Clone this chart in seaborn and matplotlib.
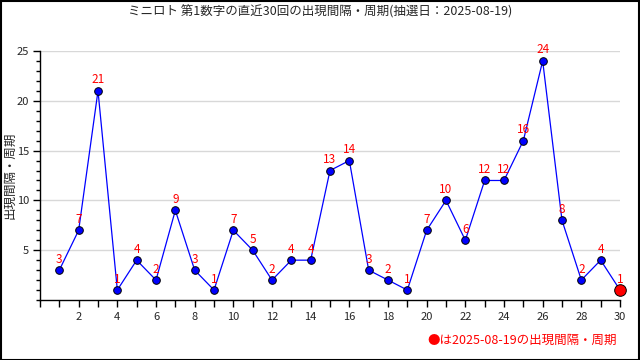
import matplotlib
matplotlib.use('Agg')
import matplotlib.pyplot as plt
import seaborn as sns
import pandas as pd
from matplotlib.ticker import MultipleLocator

# data
draws = list(range(1, 31))
intervals = [3, 7, 21, 1, 4, 2, 9, 3, 1, 7, 5, 2, 4, 4, 13, 14, 3, 2, 1, 7,
             10, 6, 12, 12, 16, 24, 8, 2, 4, 1]
title = 'ミニロト 第1数字の直近30回の出現間隔・周期(抽選日：2025-08-19)'
ylabel = '出現間隔・周期'
note = '●は2025-08-19の出現間隔・周期'

sns.set_style('white')
plt.rcParams['font.family'] = ['Noto Sans CJK JP', 'DejaVu Sans']

df = pd.DataFrame({'draw': draws, 'interval': intervals})

fig = plt.figure(figsize=(6.4, 3.6), dpi=100)
ax = fig.add_axes([40 / 640, 60 / 360, 580 / 640, 249 / 360])

for y in [5, 10, 15, 20, 25]:
    ax.axhline(y, color='#d8d8d8', lw=1, zorder=0)

sns.lineplot(data=df, x='draw', y='interval', color='blue', lw=0.9, ax=ax,
             marker='o', markersize=5.5, markerfacecolor='blue',
             markeredgecolor='black', markeredgewidth=0.7, zorder=3)
last = df.iloc[[-1]]
sns.scatterplot(data=last, x='draw', y='interval', color='red', s=70,
                edgecolor='black', linewidth=0.7, ax=ax, zorder=4, clip_on=False)

for d, v in zip(draws, intervals):
    ax.text(d, v + 0.45, str(v), color='red', fontsize=8.5, ha='center', va='bottom')

ax.set_xlim(0, 30)
ax.set_ylim(0, 25)
ax.xaxis.set_major_locator(MultipleLocator(2))
ax.xaxis.set_minor_locator(MultipleLocator(1))
ax.yaxis.set_major_locator(MultipleLocator(5))
ax.yaxis.set_minor_locator(MultipleLocator(1))
ax.set_yticks([5, 10, 15, 20, 25])
ax.set_xticks(range(2, 31, 2))
ax.tick_params(axis='both', which='both', left=True, bottom=True,
               direction='out', color='black', width=1)
ax.tick_params(axis='both', which='major', length=5, labelsize=8, pad=3)
ax.tick_params(axis='x', which='major', pad=4)
ax.tick_params(axis='y', which='minor', length=3)
ax.tick_params(axis='x', which='minor', length=5)
for s in ['top', 'right']:
    ax.spines[s].set_visible(False)
for s in ['left', 'bottom']:
    ax.spines[s].set_color('black')
    ax.spines[s].set_linewidth(1)
ax.set_xlabel('')
ax.set_ylabel(ylabel, fontsize=9)
ax.yaxis.set_label_coords(-0.041, 0.5)

fig.text(0.5, 0.966, title, ha='center', va='center', fontsize=9)
fig.text(0.964, 0.055, note, ha='right', va='center', fontsize=9, color='red')

border = plt.Rectangle((0.001, 0.001), 0.997, 0.996, transform=fig.transFigure,
                       fill=False, edgecolor='black', lw=1.5)
fig.patches.append(border)

fig.savefig('out.png', dpi=100)
